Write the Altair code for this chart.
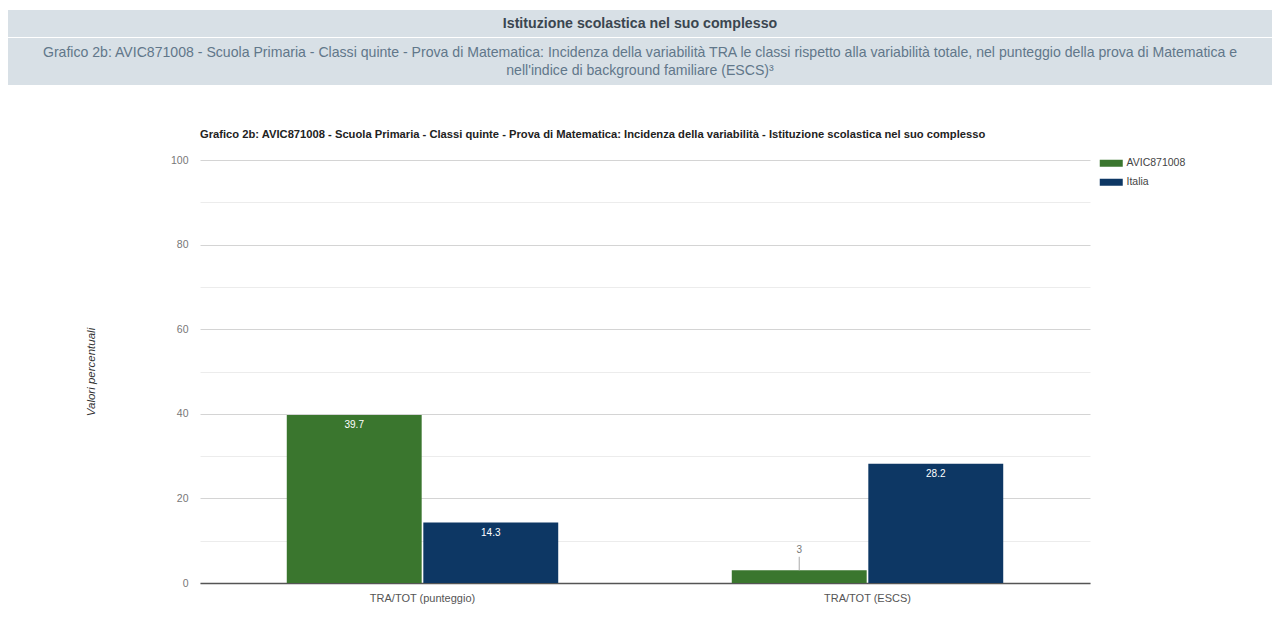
import altair as alt
import pandas as pd

# ---- data ----
categories = ["TRA/TOT (punteggio)", "TRA/TOT (ESCS)"]
series = ["AVIC871008", "Italia"]
school_values = [39.7, 3]
italy_values = [14.3, 28.2]
series_colors = ["#3a762e", "#0d3764"]
y_ticks = [0, 10, 20, 30, 40, 50, 60, 70, 80, 90, 100]

banner_title = "Istituzione scolastica nel suo complesso"
banner_sub_1 = ("Grafico 2b: AVIC871008 - Scuola Primaria - Classi quinte - Prova di Matematica: "
                "Incidenza della variabilità TRA le classi rispetto alla variabilità totale, "
                "nel punteggio della prova di Matematica e")
banner_sub_2 = "nell'indice di background familiare (ESCS)³"
chart_title = ("Grafico 2b: AVIC871008 - Scuola Primaria - Classi quinte - Prova di Matematica: "
               "Incidenza della variabilità - Istituzione scolastica nel suo complesso")
y_title = "Valori percentuali"

rows = []
for i, c in enumerate(categories):
    rows.append({"cat": c, "serie": series[0], "value": school_values[i]})
    rows.append({"cat": c, "serie": series[1], "value": italy_values[i]})
df = pd.DataFrame(rows)
df["label"] = df["value"].map(lambda v: f"{v:g}")

FONT = "Liberation Sans"
W, H = 890, 423

x_enc = alt.X("cat:N", sort=categories, title=None,
              scale=alt.Scale(paddingInner=0.39, paddingOuter=0.195),
              axis=alt.Axis(labelAngle=0, ticks=False, labelPadding=9, labelFontSize=11,
                            labelColor="#555555", labelFont=FONT, domainColor="#555555",
                            domainWidth=1.5, grid=False))
xoff = alt.XOffset("serie:N", sort=series, scale=alt.Scale(paddingInner=0.012))
color_enc = alt.Color("serie:N", sort=series, title=None,
                      scale=alt.Scale(domain=series, range=series_colors),
                      legend=alt.Legend(orient="none", legendX=906, legendY=-2,
                                        symbolType="M-2.3,-0.7H2.3V0.7H-2.3Z", symbolSize=100,
                                        symbolStrokeWidth=0, labelFontSize=10.5, labelFont=FONT,
                                        labelColor="#444444", rowPadding=8, labelOffset=10))
y_enc = alt.Y("value:Q", title=y_title,
              scale=alt.Scale(domain=[0, 100], nice=False),
              axis=alt.Axis(values=y_ticks, ticks=False, domain=False,
                            labelExpr="datum.value % 20 === 0 ? datum.label : ''",
                            labelFontSize=10.5, labelColor="#777777", labelFont=FONT, labelPadding=12,
                            titleFontSize=11.5, titleFontStyle="italic", titleFontWeight="normal",
                            titleColor="#333333", titleFont=FONT, titlePadding=74,
                            gridColor={"condition": {"test": "datum.value % 20 === 0", "value": "#d4d4d4"},
                                       "value": "#ececec"}))

base = alt.Chart(df)
bars = base.mark_bar().encode(x=x_enc, xOffset=xoff, y=y_enc, color=color_enc)

inside = base.transform_filter("datum.value >= 8").mark_text(
    baseline="top", dy=5, fontSize=10, font=FONT, color="#ffffff").encode(
    x=alt.X("cat:N", sort=categories), xOffset=xoff, y="value:Q", text="label:N")

outside = base.transform_filter("datum.value < 8").transform_calculate(
    ty="datum.value + 4.8").mark_text(baseline="middle", fontSize=10, font=FONT,
                                      color="#777777").encode(
    x=alt.X("cat:N", sort=categories), xOffset=xoff, y="ty:Q", text="label:N")

stem = base.transform_filter("datum.value < 8").transform_calculate(
    y2v="datum.value + 3.2").mark_rule(color="#aaaaaa", strokeWidth=1).encode(
    x=alt.X("cat:N", sort=categories), xOffset=xoff, y="value:Q", y2="y2v:Q")

one = alt.Chart(pd.DataFrame({"k": [0]}))
rect1 = one.mark_rect(color="#d8e0e6").encode(
    x=alt.value(-192), x2=alt.value(1072), y=alt.value(-150), y2=alt.value(-123))
rect2 = one.mark_rect(color="#d8e0e6").encode(
    x=alt.value(-192), x2=alt.value(1072), y=alt.value(-122), y2=alt.value(-75))
t1 = one.mark_text(align="center", baseline="middle", fontSize=14.2, fontWeight="bold",
                   font=FONT, color="#3b4650").encode(
    x=alt.value(440), y=alt.value(-136), text=alt.value(banner_title))
t2 = one.mark_text(align="center", baseline="middle", fontSize=14.1, font=FONT,
                   color="#61778a").encode(
    x=alt.value(440), y=alt.value(-107), text=alt.value(banner_sub_1))
t3 = one.mark_text(align="center", baseline="middle", fontSize=14.1, font=FONT,
                   color="#61778a").encode(
    x=alt.value(440), y=alt.value(-89), text=alt.value(banner_sub_2))
t4 = one.mark_text(align="left", baseline="middle", fontSize=11.2, fontWeight="bold",
                   font=FONT, color="#222222").encode(
    x=alt.value(0), y=alt.value(-25), text=alt.value(chart_title))

chart = alt.layer(rect1, rect2, t1, t2, t3, t4, bars, inside, stem, outside).properties(
    width=W, height=H, background="#ffffff",
    padding={"left": 0, "top": 2, "right": 0, "bottom": 5},
).configure_view(strokeWidth=0, stroke="transparent")

chart.save("out.html", embed_options={"renderer": "svg", "actions": False})
